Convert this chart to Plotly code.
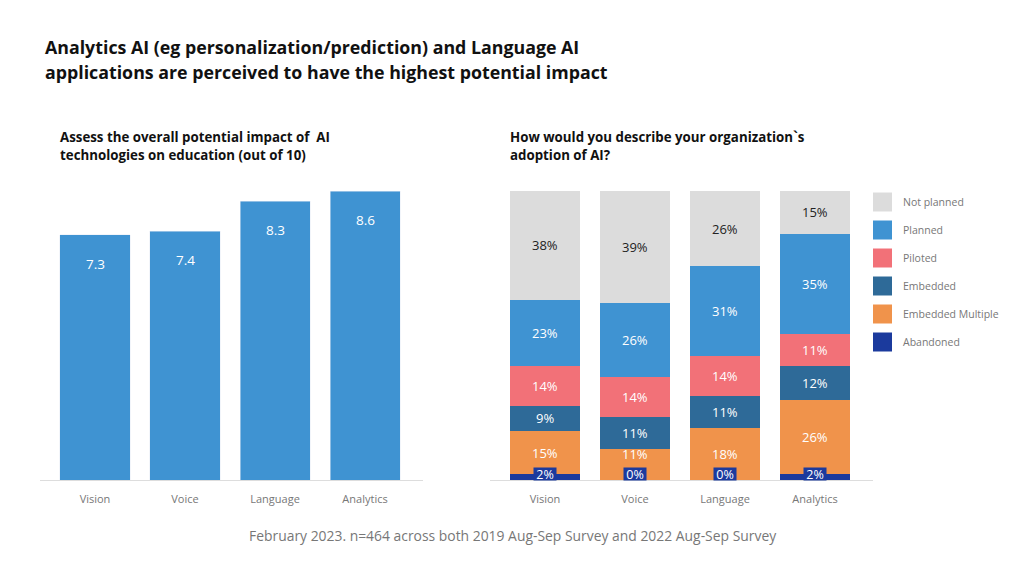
import plotly.graph_objects as go

categories = ["Vision", "Voice", "Language", "Analytics"]
impact_scores = [7.3, 7.4, 8.3, 8.6]

series_names = ["Abandoned", "Embedded Multiple", "Embedded", "Piloted", "Planned", "Not planned"]
abandoned = [2, 0, 0, 2]
embedded_multiple = [15, 11, 18, 26]
embedded = [9, 11, 11, 12]
piloted = [14, 14, 14, 11]
planned = [23, 26, 31, 35]
not_planned = [38, 39, 26, 15]
series_values = [abandoned, embedded_multiple, embedded, piloted, planned, not_planned]
series_colors = ["#1b3a9d", "#f0934b", "#2e6a98", "#f27178", "#3f93d2", "#dcdcdc"]
label_colors = ["#ffffff", "#ffffff", "#ffffff", "#ffffff", "#ffffff", "#222222"]

FONT = "Open Sans"
W, H = 1024, 576
PLOT_TOP, PLOT_BOTTOM = 191, 480
PX_PER_PCT = (PLOT_BOTTOM - PLOT_TOP) / 100.0


def px(x):
    return x / W


def py(y):
    return 1 - y / H


totals = [sum(s[i] for s in series_values) for i in range(len(categories))]

fig = go.Figure()

fig.add_trace(go.Bar(
    x=categories, y=impact_scores, marker_color="#3f93d2", width=0.778,
    xaxis="x", yaxis="y", showlegend=False, hoverinfo="x+y",
))

annotations = []
base = [0.0] * len(categories)
for k, (name, vals, col, lcol) in enumerate(zip(series_names, series_values, series_colors, label_colors)):
    norm = [v / t * 100 for v, t in zip(vals, totals)]
    fig.add_trace(go.Bar(
        x=categories, y=norm, name=name, marker_color=col, width=0.778,
        xaxis="x2", yaxis="y2", showlegend=False, marker_line_width=0,
    ))
    for i, c in enumerate(categories):
        if name == "Abandoned":
            annotations.append(dict(x=c, y=0, xref="x2", yref="y2", text=f"{vals[i]}%", showarrow=False,
                                    yanchor="bottom", yshift=-1, bgcolor="#1b3a9d", borderpad=0,
                                    width=22, height=12, valign="middle",
                                    font=dict(family=FONT, size=12.5, color="white")))
        else:
            center = base[i] + norm[i] / 2
            shift = 0
            # keep the label clear of the abandoned label box sitting on the baseline
            center_px_above = center * PX_PER_PCT
            min_px = 26
            if center_px_above < min_px:
                shift = min_px - center_px_above
            annotations.append(dict(x=c, y=center, xref="x2", yref="y2",
                                    text=f"{vals[i]}%", showarrow=False, yanchor="middle",
                                    yshift=shift,
                                    font=dict(family=FONT, size=13, color=lcol)))
        base[i] += norm[i]

# left chart value labels
for c, v in zip(categories, impact_scores):
    annotations.append(dict(x=c, y=v, xref="x", yref="y", text=f"{v}", showarrow=False,
                            yshift=-29, font=dict(family=FONT, size=13.5, color="white")))

# titles
title_lines = ["Analytics AI (eg personalization/prediction) and Language AI",
               "applications are perceived to have the highest potential impact"]
for i, t in enumerate(title_lines):
    annotations.append(dict(x=px(43), y=py(47 + 25 * i), xref="paper", yref="paper", text=t,
                            showarrow=False, xanchor="left", yanchor="middle",
                            font=dict(family=FONT, size=17.8, color="#111111", weight="bold")))
left_sub = ["Assess the overall potential impact of  AI", "technologies on education (out of 10)"]
right_sub = ["How would you describe your organization`s", "adoption of AI?"]
for lines, x0 in ((left_sub, 58), (right_sub, 508)):
    for i, t in enumerate(lines):
        annotations.append(dict(x=px(x0), y=py(137 + 18 * i), xref="paper", yref="paper", text=t,
                                showarrow=False, xanchor="left", yanchor="middle",
                                font=dict(family=FONT, size=13.3, color="#111111", weight="bold")))

annotations.append(dict(x=px(512), y=py(535), xref="paper", yref="paper",
                        text="February 2023. n=464 across both 2019 Aug-Sep Survey and 2022 Aug-Sep Survey",
                        showarrow=False, xanchor="center", yanchor="middle",
                        font=dict(family=FONT, size=13.9, color="#777777")))

# custom legend
shapes = []
legend_order = list(reversed(list(zip(series_names, series_colors))))
for i, (name, col) in enumerate(legend_order):
    yc = 202 + 28 * i
    shapes.append(dict(type="rect", xref="paper", yref="paper", x0=px(873), x1=px(892),
                       y0=py(yc + 9.5), y1=py(yc - 9.5), fillcolor=col, line_width=0))
    annotations.append(dict(x=px(901), y=py(yc), xref="paper", yref="paper", text=name,
                            showarrow=False, xanchor="left", yanchor="middle",
                            font=dict(family=FONT, size=10.5, color="#777777")))

axis_common = dict(showline=True, linecolor="#dddddd", linewidth=1, ticks="",
                   tickfont=dict(family=FONT, size=11, color="#777777"),
                   range=[-0.611, 3.644], fixedrange=True, showgrid=False, zeroline=False,
                   ticklabelstandoff=9)

fig.update_layout(
    width=W, height=H, margin=dict(l=0, r=0, t=0, b=0),
    paper_bgcolor="white", plot_bgcolor="white",
    barmode="stack", bargap=0.2,
    font=dict(family=FONT),
    xaxis=dict(domain=[px(40), px(423)], anchor="y", **axis_common),
    yaxis=dict(domain=[py(PLOT_BOTTOM), py(PLOT_TOP)], range=[0, 8.6], visible=False, fixedrange=True),
    xaxis2=dict(domain=[px(490), px(873)], anchor="y2", **axis_common),
    yaxis2=dict(domain=[py(PLOT_BOTTOM), py(PLOT_TOP)], range=[0, 100], visible=False, fixedrange=True),
    annotations=annotations, shapes=shapes, showlegend=False,
)

fig.write_html("out.html")
